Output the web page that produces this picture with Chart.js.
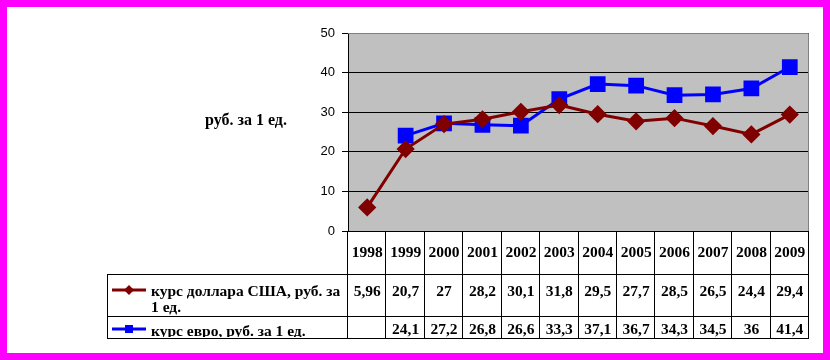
<!DOCTYPE html>
<html><head><meta charset="utf-8">
<script src="https://cdn.jsdelivr.net/npm/chart.js@4/dist/chart.umd.min.js"></script>
<style>
html,body{margin:0;padding:0;background:#fff;}
canvas{display:block}
</style></head>
<body><canvas id="c" width="830" height="360"></canvas>
<script>
const years = ['1998','1999','2000','2001','2002','2003','2004','2005','2006','2007','2008','2009'];
const usdValues = [5.96, 20.7, 27, 28.2, 30.1, 31.8, 29.5, 27.7, 28.5, 26.5, 24.4, 29.4];
const eurValues = [null, 24.1, 27.2, 26.8, 26.6, 33.3, 37.1, 36.7, 34.3, 34.5, 36, 41.4];
const usdText = ['5,96','20,7','27','28,2','30,1','31,8','29,5','27,7','28,5','26,5','24,4','29,4'];
const eurText = ['','24,1','27,2','26,8','26,6','33,3','37,1','36,7','34,3','34,5','36','41,4'];
const usdLabelLines = ['курс доллара США, руб. за', '1 ед.'];
const eurLabelLines = ['курс евро, руб. за 1 ед.'];
const yTitle = 'руб. за 1 ед.';

const USD_COLOR = '#800000';
const EUR_COLOR = '#0000FF';
const TABLE_LEFT = 107, HEAD_BOTTOM = 274, ROW1_BOTTOM = 316, TABLE_BOTTOM = 338;
const BOLD = 'bold 15.5px "Liberation Serif", "Times New Roman", serif';

const framePlugin = {
  id: 'frame',
  beforeDraw(chart) {
    const ctx = chart.ctx, a = chart.chartArea;
    ctx.save();
    ctx.fillStyle = '#ffffff';
    ctx.fillRect(0, 0, chart.width, chart.height);
    ctx.fillStyle = '#C0C0C0';
    ctx.fillRect(a.left, a.top, a.right - a.left, a.bottom - a.top);
    ctx.restore();
  },
  afterDraw(chart) {
    const ctx = chart.ctx, a = chart.chartArea, xs = chart.scales.x;
    ctx.save();
    ctx.strokeStyle = '#808080';
    ctx.lineWidth = 1;
    ctx.beginPath();
    ctx.moveTo(a.left, a.top + 0.5); ctx.lineTo(a.right - 0.5, a.top + 0.5); ctx.lineTo(a.right - 0.5, a.bottom);
    ctx.stroke();
    ctx.fillStyle = '#000';
    ctx.font = 'bold 16px "Liberation Serif", "Times New Roman", serif';
    ctx.textAlign = 'center';
    ctx.textBaseline = 'middle';
    ctx.fillText(yTitle, 246, 121);
    const n = years.length;
    const w = (a.right - a.left) / n;
    ctx.strokeStyle = '#000';
    ctx.beginPath();
    ctx.moveTo(a.left, a.bottom + 0.5); ctx.lineTo(a.right, a.bottom + 0.5);
    for (let i = 0; i <= n; i++) {
      const x = Math.round(a.left + i * w) - 0.5;
      ctx.moveTo(x, a.bottom); ctx.lineTo(x, TABLE_BOTTOM + 0.5);
    }
    ctx.moveTo(TABLE_LEFT + 0.5, HEAD_BOTTOM); ctx.lineTo(TABLE_LEFT + 0.5, TABLE_BOTTOM + 0.5);
    [HEAD_BOTTOM, ROW1_BOTTOM, TABLE_BOTTOM].forEach(y => {
      ctx.moveTo(TABLE_LEFT, y + 0.5); ctx.lineTo(a.right, y + 0.5);
    });
    ctx.stroke();
    ctx.font = BOLD;
    ctx.textAlign = 'center';
    ctx.textBaseline = 'alphabetic';
    for (let i = 0; i < n; i++) {
      const cx = xs.getPixelForValue(i);
      ctx.fillText(years[i], cx, 257);
      ctx.fillText(usdText[i], cx, 296);
      ctx.fillText(eurText[i], cx, 334);
    }
    ctx.textAlign = 'left';
    ctx.fillText(usdLabelLines[0], 151, 296);
    ctx.fillText(usdLabelLines[1], 151, 312);
    ctx.save();
    ctx.beginPath();
    ctx.rect(TABLE_LEFT + 1, ROW1_BOTTOM + 1, 238, 20);
    ctx.clip();
    ctx.fillText(eurLabelLines[0], 151, 336);
    ctx.restore();
    const keys = [[USD_COLOR, 290, 'diamond'], [EUR_COLOR, 329, 'square']];
    keys.forEach(([col, y, shape]) => {
      ctx.strokeStyle = col; ctx.fillStyle = col; ctx.lineWidth = 3;
      ctx.beginPath(); ctx.moveTo(112, y); ctx.lineTo(146, y); ctx.stroke();
      ctx.beginPath();
      if (shape === 'diamond') {
        ctx.moveTo(129, y - 5); ctx.lineTo(134, y); ctx.lineTo(129, y + 5); ctx.lineTo(124, y);
        ctx.closePath(); ctx.fill();
      } else {
        ctx.fillRect(125, y - 4, 8, 8);
      }
    });
    ctx.fillStyle = '#FF00FF';
    ctx.fillRect(0, 0, chart.width, 7);
    ctx.fillRect(0, chart.height - 7, chart.width, 7);
    ctx.fillRect(0, 0, 7, chart.height);
    ctx.fillRect(chart.width - 7, 0, 7, chart.height);
    ctx.restore();
  }
};

new Chart(document.getElementById('c'), {
  type: 'line',
  data: {
    labels: years,
    datasets: [
      {
        label: 'курс доллара США, руб. за 1 ед.',
        data: usdValues,
        borderColor: USD_COLOR,
        backgroundColor: USD_COLOR,
        borderWidth: 3,
        pointStyle: 'rectRot',
        pointRadius: 7,
        pointHoverRadius: 7,
        tension: 0
      },
      {
        label: 'курс евро, руб. за 1 ед.',
        data: eurValues,
        borderColor: EUR_COLOR,
        backgroundColor: EUR_COLOR,
        borderWidth: 3,
        pointStyle: 'rect',
        pointRadius: 9,
        pointHoverRadius: 9,
        tension: 0
      }
    ]
  },
  options: {
    responsive: false,
    devicePixelRatio: 1,
    animation: false,
    layout: { padding: { left: 0, right: 21, top: 33, bottom: 129 } },
    plugins: { legend: { display: false }, tooltip: { enabled: false }, title: { display: false } },
    scales: {
      x: { display: false, offset: true },
      y: {
        min: 0, max: 50,
        afterFit(scale) { scale.width = 348; },
        ticks: {
          stepSize: 10,
          color: '#000',
          padding: 7,
          font: { family: '"Liberation Sans", Arial, sans-serif', size: 13 }
        },
        grid: { color: '#000', lineWidth: 1, drawTicks: true, tickLength: 6 },
        border: { color: '#000', width: 1 }
      }
    }
  },
  plugins: [framePlugin]
});
</script>
</body></html>
